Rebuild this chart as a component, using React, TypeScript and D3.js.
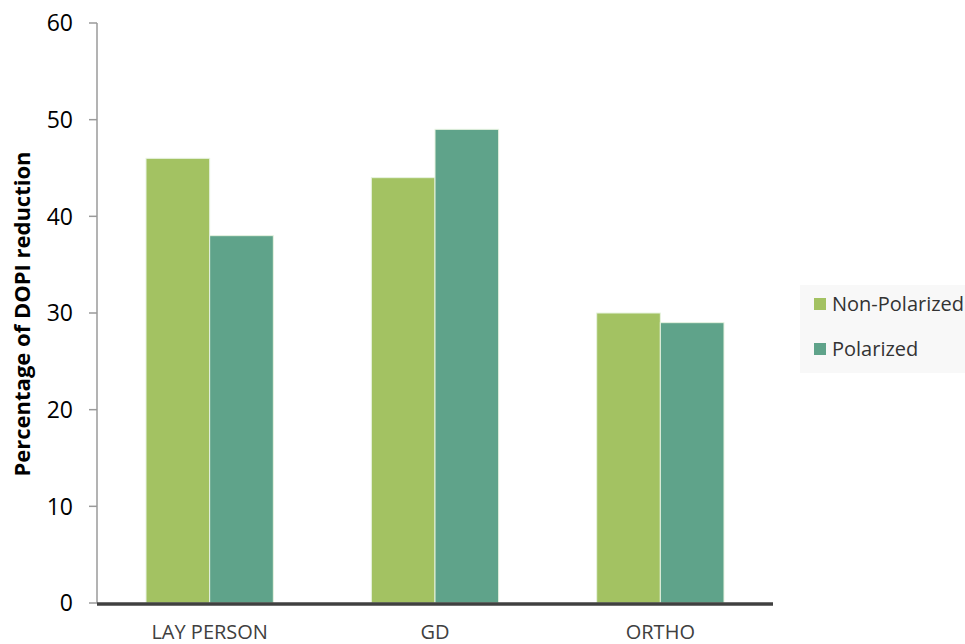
import React from "react";
import * as d3 from "d3";

const categories = ["LAY PERSON", "GD", "ORTHO"];
const seriesNames = ["Non-Polarized", "Polarized"];
const nonPolarized = [46, 44, 30];
const polarized = [38, 49, 29];
const yTicks = [0, 10, 20, 30, 40, 50, 60];
const colors = ["#A3C262", "#5FA38A"];

export default function App() {
  const W = 965, H = 644;
  const left = 97, right = 773, top = 23, bottom = 603;
  const y = d3.scaleLinear().domain([0, 60]).range([bottom, top]);
  const x0 = d3.scaleBand().domain(categories).range([left, right]).padding(0);
  const x1 = d3.scaleBand().domain(seriesNames).range([0, x0.bandwidth()]).paddingInner(0).paddingOuter(0.77);
  const values = [nonPolarized, polarized];
  const font = "'Open Sans', 'Liberation Sans', sans-serif";
  return (
    <svg width={W} height={H} style={{ position: "absolute", left: 0, top: 0, background: "#fff" }} fontFamily={font}>
      <line x1={left} x2={left} y1={top} y2={bottom} stroke="#9a9a9a" strokeWidth={1.5} />
      {yTicks.map((t) => (
        <g key={t}>
          <line x1={left - 8} x2={left} y1={y(t)} y2={y(t)} stroke="#9a9a9a" strokeWidth={1.5} />
          <text x={73} y={y(t)} dy="0.36em" textAnchor="end" fontSize={23} fill="#000">{t}</text>
        </g>
      ))}
      {categories.map((c, i) => (
        <g key={c}>
          {seriesNames.map((s, j) => (
            <rect key={s} x={(x0(c) as number) + (x1(s) as number)} y={y(values[j][i])}
              width={x1.bandwidth()} height={bottom - y(values[j][i])}
              fill={colors[j]} stroke="#e8f3e0" strokeWidth={1} />
          ))}
          <text x={(x0(c) as number) + x0.bandwidth() / 2} y={639} textAnchor="middle" fontSize={20} fill="#404040">{c}</text>
        </g>
      ))}
      <line x1={left} x2={right} y1={bottom + 1} y2={bottom + 1} stroke="#404040" strokeWidth={3.5} />
      <text transform={`translate(22,314) rotate(-90)`} textAnchor="middle" dy="0.35em" fontSize={22} fontWeight="bold" fill="#000">Percentage of DOPI reduction</text>
      <rect x={800} y={285} width={165} height={88} fill="#f8f8f8" />
      {seriesNames.map((s, j) => (
        <g key={s}>
          <rect x={814} y={298 + j * 45} width={12} height={12} fill={colors[j]} />
          <text x={832} y={304 + j * 45} dy="0.36em" fontSize={20} fill="#333">{s}</text>
        </g>
      ))}
    </svg>
  );
}
